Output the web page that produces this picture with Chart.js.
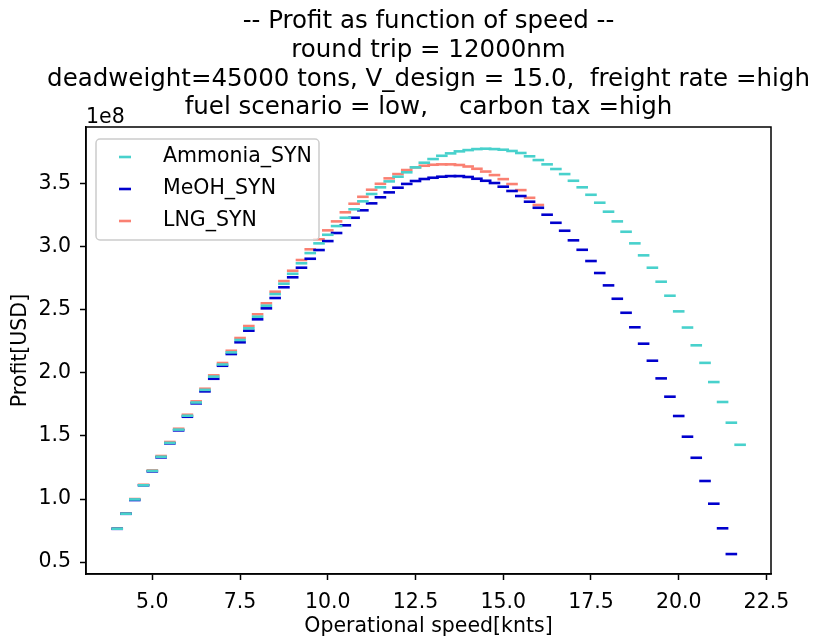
<!DOCTYPE html>
<html>
<head>
<meta charset="utf-8">
<script src="https://cdn.jsdelivr.net/npm/chart.js@4/dist/chart.umd.min.js"></script>
<style>
  html, body { margin: 0; padding: 0; background: #fff; }
</style>
</head>
<body>
<canvas id="profitChart" width="818" height="637"></canvas>
<script>
// operational speeds [knts]
const speeds = [
  4.0, 4.25, 4.5, 4.75, 5.0, 5.25, 5.5, 5.75, 6.0, 6.25, 6.5, 6.75,
  7.0, 7.25, 7.5, 7.75, 8.0, 8.25, 8.5, 8.75, 9.0, 9.25, 9.5, 9.75,
  10.0, 10.25, 10.5, 10.75, 11.0, 11.25, 11.5, 11.75, 12.0, 12.25, 12.5, 12.75,
  13.0, 13.25, 13.5, 13.75, 14.0, 14.25, 14.5, 14.75, 15.0, 15.25, 15.5, 15.75,
  16.0, 16.25, 16.5, 16.75, 17.0, 17.25, 17.5, 17.75, 18.0, 18.25, 18.5, 18.75,
  19.0, 19.25, 19.5, 19.75, 20.0, 20.25, 20.5, 20.75, 21.0, 21.25, 21.5, 21.75
];

// profit per speed, in units of 1e8 USD
const profitAmmonia = [
  0.765, 0.884, 0.997, 1.109, 1.223, 1.335, 1.445, 1.550, 1.660, 1.765, 1.865, 1.970,
  2.066, 2.162, 2.260, 2.353, 2.445, 2.532, 2.624, 2.706, 2.785, 2.868, 2.949, 3.026,
  3.094, 3.163, 3.229, 3.296, 3.359, 3.417, 3.470, 3.517, 3.554, 3.589, 3.628, 3.665,
  3.694, 3.720, 3.739, 3.755, 3.765, 3.773, 3.776, 3.773, 3.768, 3.758, 3.742, 3.716,
  3.686, 3.652, 3.615, 3.575, 3.522, 3.470, 3.411, 3.348, 3.277, 3.200, 3.118, 3.026,
  2.931, 2.833, 2.722, 2.611, 2.487, 2.359, 2.218, 2.079, 1.927, 1.769, 1.605, 1.430
];

const profitMeOH = [
  0.764, 0.883, 0.992, 1.109, 1.219, 1.330, 1.441, 1.544, 1.652, 1.758, 1.853, 1.953,
  2.056, 2.149, 2.242, 2.334, 2.424, 2.511, 2.593, 2.678, 2.757, 2.833, 2.904, 2.973,
  3.044, 3.108, 3.169, 3.229, 3.288, 3.343, 3.391, 3.430, 3.467, 3.497, 3.520, 3.536,
  3.546, 3.554, 3.559, 3.559, 3.552, 3.538, 3.522, 3.504, 3.475, 3.441, 3.401, 3.356,
  3.308, 3.253, 3.189, 3.126, 3.050, 2.975, 2.886, 2.791, 2.693, 2.587, 2.476, 2.361,
  2.231, 2.096, 1.956, 1.811, 1.658, 1.494, 1.327, 1.143, 0.963, 0.768, 0.564
];

const profitLNG = [
  0.768, 0.887, 1.000, 1.113, 1.227, 1.341, 1.452, 1.557, 1.668, 1.774, 1.874, 1.980,
  2.078, 2.175, 2.276, 2.371, 2.464, 2.551, 2.643, 2.727, 2.809, 2.894, 2.979, 3.058,
  3.129, 3.200, 3.272, 3.340, 3.395, 3.451, 3.498, 3.541, 3.575, 3.607, 3.628, 3.641,
  3.649, 3.652, 3.652, 3.647, 3.635, 3.617, 3.595, 3.567, 3.535, 3.496, 3.448, 3.387,
  3.330
];

const seriesNames = ['Ammonia_SYN', 'MeOH_SYN', 'LNG_SYN'];
const seriesColors = ['#48D1CC', '#0000CD', '#FA8072'];
const seriesValues = [profitAmmonia, profitMeOH, profitLNG];

const titleLines = [
  '-- Profit as function of speed --',
  'round trip = 12000nm',
  'deadweight=45000 tons, V_design = 15.0,  freight rate =high',
  'fuel scenario = low,    carbon tax =high'
];

const FONT = "'DejaVu Sans', sans-serif";
const LABEL_SIZE = 20.5;
const TITLE_SIZE = 24.5;
Chart.defaults.font.family = FONT;
Chart.defaults.color = '#000';

const toPoints = vals => vals.map((v, i) => ({ x: speeds[i], y: v }));

// box around the plot, legend, 1e8 multiplier and the title centred over the axes
const framePlugin = {
  id: 'frame',
  afterDatasetsDraw(chart) {
    const { ctx, chartArea: a } = chart;
    ctx.save();
    ctx.strokeStyle = '#000';
    ctx.lineWidth = 1.5;
    ctx.strokeRect(a.left, a.top, a.right - a.left, a.bottom - a.top);

    // legend
    const bx = a.left + 10, by = a.top + 12, bw = 223, bh = 101;
    ctx.beginPath();
    ctx.roundRect(bx, by, bw, bh, 4);
    ctx.fillStyle = 'rgba(255,255,255,0.8)';
    ctx.fill();
    ctx.strokeStyle = '#cccccc';
    ctx.lineWidth = 1.5;
    ctx.stroke();
    ctx.font = LABEL_SIZE + 'px ' + FONT;
    ctx.textBaseline = 'middle';
    ctx.fillStyle = '#000';
    chart.data.datasets.forEach((ds, i) => {
      const y = by + 18 + i * 32;
      ctx.strokeStyle = ds.borderColor;
      ctx.lineWidth = 2.6;
      ctx.beginPath();
      ctx.moveTo(bx + 23, y);
      ctx.lineTo(bx + 35, y);
      ctx.stroke();
      ctx.fillText(ds.label, bx + 67, y);
    });

    ctx.textBaseline = 'alphabetic';
    ctx.textAlign = 'left';
    ctx.fillText('1e8', a.left, a.top - 4);

    // title
    ctx.font = TITLE_SIZE + 'px ' + FONT;
    ctx.textAlign = 'center';
    ctx.textBaseline = 'middle';
    const cx = (a.left + a.right) / 2;
    titleLines.forEach((line, i) => ctx.fillText(line, cx, 22 + i * 28.7));
    ctx.restore();
  }
};

new Chart(document.getElementById('profitChart'), {
  type: 'scatter',
  data: {
    datasets: seriesNames.map((name, i) => ({
      label: name,
      data: toPoints(seriesValues[i]),
      pointStyle: 'line',
      pointRadius: 5.8,
      borderWidth: 2.6,
      borderColor: seriesColors[i],
      backgroundColor: seriesColors[i]
    }))
  },
  options: {
    responsive: false,
    animation: false,
    events: [],
    layout: { padding: { left: 0, right: 47, top: 127, bottom: 0 } },
    plugins: {
      legend: { display: false },
      tooltip: { enabled: false },
      title: { display: false }
    },
    scales: {
      x: {
        type: 'linear',
        min: 3.11,
        max: 22.63,
        afterFit: s => { s.height = 63; },
        ticks: {
          stepSize: 2.5,
          includeBounds: false,
          padding: 10,
          font: { size: LABEL_SIZE },
          callback: v => v.toFixed(1)
        },
        grid: { drawOnChartArea: false, drawTicks: true, tickLength: 6, tickColor: '#000', tickWidth: 1.5 },
        border: { display: true, color: '#000', width: 1.5 },
        title: {
          display: true,
          text: 'Operational speed[knts]',
          font: { size: LABEL_SIZE, lineHeight: 1.0 },
          padding: { top: 0, bottom: 0 }
        }
      },
      y: {
        type: 'linear',
        min: 0.406,
        max: 3.948,
        afterFit: s => { s.width = 86; },
        ticks: {
          stepSize: 0.5,
          includeBounds: false,
          padding: 9,
          font: { size: LABEL_SIZE },
          callback: v => v.toFixed(1)
        },
        grid: { drawOnChartArea: false, drawTicks: true, tickLength: 6, tickColor: '#000', tickWidth: 1.5 },
        border: { display: true, color: '#000', width: 1.5 },
        title: {
          display: true,
          text: 'Profit[USD]',
          font: { size: LABEL_SIZE },
          padding: { top: 8, bottom: 0 }
        }
      }
    }
  },
  plugins: [framePlugin]
});
</script>
</body>
</html>
